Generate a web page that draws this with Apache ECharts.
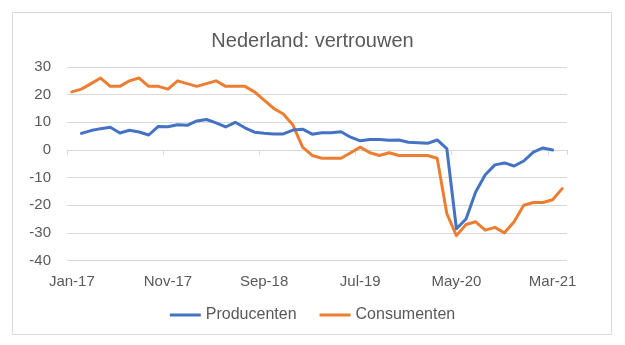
<!DOCTYPE html>
<html>
<head>
<meta charset="utf-8">
<script src="https://cdn.jsdelivr.net/npm/echarts@6/dist/echarts.min.js"></script>
<style>
html,body{margin:0;padding:0;background:#fff;}
#c{width:625px;height:345px;}
</style>
</head>
<body>
<div id="c"></div>
<script>
const categories = [
  'Jan-17','Feb-17','Mar-17','Apr-17','May-17','Jun-17','Jul-17','Aug-17','Sep-17','Oct-17','Nov-17','Dec-17',
  'Jan-18','Feb-18','Mar-18','Apr-18','May-18','Jun-18','Jul-18','Aug-18','Sep-18','Oct-18','Nov-18','Dec-18',
  'Jan-19','Feb-19','Mar-19','Apr-19','May-19','Jun-19','Jul-19','Aug-19','Sep-19','Oct-19','Nov-19','Dec-19',
  'Jan-20','Feb-20','Mar-20','Apr-20','May-20','Jun-20','Jul-20','Aug-20','Sep-20','Oct-20','Nov-20','Dec-20',
  'Jan-21','Feb-21','Mar-21','Apr-21'
];
const producenten = [
  null, 6, 7, 7.7, 8.2, 6.1, 7.1, 6.5, 5.4, 8.5, 8.4, 9.1,
  8.9, 10.5, 11, 9.8, 8.3, 10, 8, 6.4, 6, 5.8, 5.8, 7.2,
  7.5, 5.7, 6.2, 6.2, 6.6, 4.6, 3.3, 3.8, 3.8, 3.5, 3.6, 2.8,
  2.6, 2.4, 3.6, 0.5, -28.5, -25, -15.2, -9, -5.4, -4.7, -5.8, -4,
  -0.8, 0.7, 0, null
];
const consumenten = [
  21, 22, 24, 26, 23, 23, 25, 26, 23, 23, 22, 25,
  24, 23, 24, 25, 23, 23, 23, 21, 18, 15, 13, 9,
  1, -2, -3, -3, -3, -1, 1, -1, -2, -1, -2, -2,
  -2, -2, -3, -23, -31, -27, -26, -29, -28, -30, -26, -20,
  -19, -19, -18, -14
];
const yTicks = { min: -40, max: 30, interval: 10 };

const FONT = 'Liberation Sans';
const TXT = '#595959';
const GRID = '#d9d9d9';

const chart = echarts.init(document.getElementById('c'), null, { renderer: 'canvas' });
chart.setOption({
  backgroundColor: '#ffffff',
  animation: false,
  graphic: [{
    type: 'rect',
    shape: { x: 12.5, y: 12.5, width: 599, height: 322 },
    style: { fill: 'none', stroke: GRID, lineWidth: 1 },
    silent: true,
    z: -1
  }],
  title: {
    text: 'Nederland: vertrouwen',
    left: 'center',
    top: 26,
    textStyle: { fontFamily: FONT, fontSize: 20, fontWeight: 'normal', color: TXT }
  },
  legend: {
    data: ['Producenten', 'Consumenten'],
    left: 'center',
    top: 302,
    icon: 'rect',
    itemWidth: 31,
    itemHeight: 3,
    itemGap: 23,
    textStyle: { fontFamily: FONT, fontSize: 16, color: TXT }
  },
  grid: { left: 67, right: 58, top: 67, bottom: 84.5, containLabel: false },
  xAxis: [{
    type: 'category',
    data: categories,
    boundaryGap: true,
    axisLine: { show: false, onZero: false },
    axisTick: { show: false },
    axisLabel: { interval: 9, margin: 14, fontFamily: FONT, fontSize: 15, color: TXT },
    splitLine: { show: false }
  }, {
    type: 'category',
    data: categories,
    boundaryGap: true,
    position: 'bottom',
    axisLine: { show: true, onZero: true, lineStyle: { color: GRID, width: 1 } },
    axisTick: { show: true, interval: 9, length: 5, lineStyle: { color: GRID } },
    axisLabel: { show: false },
    splitLine: { show: false }
  }],
  yAxis: {
    type: 'value',
    min: yTicks.min,
    max: yTicks.max,
    interval: yTicks.interval,
    axisLine: { show: false },
    axisTick: { show: false },
    axisLabel: { margin: 16, fontFamily: FONT, fontSize: 15, color: TXT },
    splitLine: { show: true, lineStyle: { color: GRID, width: 1 } }
  },
  series: [{
    name: 'Producenten',
    type: 'line',
    xAxisIndex: 0,
    data: producenten,
    showSymbol: false,
    symbol: 'none',
    connectNulls: false,
    itemStyle: { color: '#4472C4' },
    lineStyle: { color: '#4472C4', width: 3, cap: 'round', join: 'round' },
    z: 3
  }, {
    name: 'Consumenten',
    type: 'line',
    xAxisIndex: 0,
    data: consumenten,
    showSymbol: false,
    symbol: 'none',
    itemStyle: { color: '#ED7D31' },
    lineStyle: { color: '#ED7D31', width: 3, cap: 'round', join: 'round' },
    z: 2
  }]
});
</script>
</body>
</html>
